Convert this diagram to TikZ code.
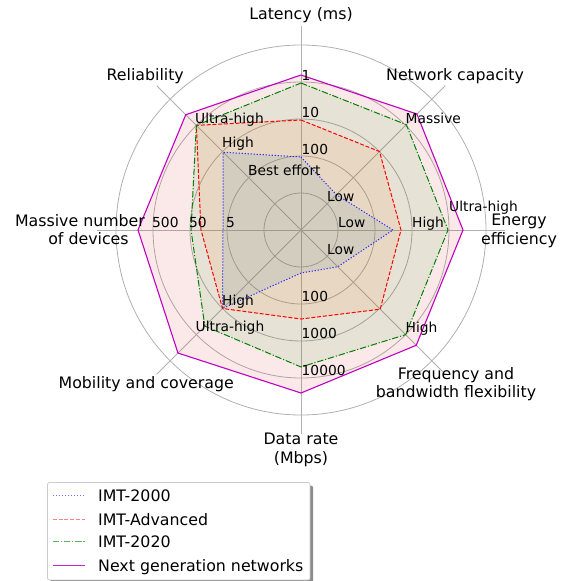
\documentclass[tikz,border=0pt]{standalone}
\usepackage{fontspec}
\setmainfont{DejaVu Sans}
\definecolor{gridc}{HTML}{B0B0B0}
\definecolor{cz}{HTML}{1F77B4}
\definecolor{co}{HTML}{FF7F0E}
\definecolor{cg}{HTML}{2CA02C}
\definecolor{cr}{HTML}{D62728}
\definecolor{mb}{RGB}{40,40,255}
\definecolor{mr}{RGB}{255,0,0}
\definecolor{mg}{RGB}{0,128,0}
\definecolor{mm}{RGB}{191,0,191}
\definecolor{lgb}{RGB}{110,110,255}
\definecolor{lgr}{RGB}{255,128,128}
\definecolor{lgg}{RGB}{90,175,90}
\definecolor{lgm}{RGB}{200,40,200}
\tikzset{
  gridline/.style={draw=gridc,line width=0.8pt},
  imtz/.style={line width=1pt,dash pattern=on 1.2pt off 1.8pt},
  imta/.style={line width=1pt,dash pattern=on 4pt off 1.8pt},
  imtt/.style={line width=1pt,dash pattern=on 6.4pt off 1.8pt on 1.2pt off 1.8pt},
  ngn/.style={line width=1.1pt},
  axlab/.style={inner sep=0pt,font=\fontsize{15.8}{18.5}\selectfont},
  ticklab/.style={inner sep=0pt,font=\fontsize{13.8}{16}\selectfont,anchor=base west},
  leglab/.style={inner sep=0pt,font=\fontsize{15.8}{18}\selectfont,anchor=base west},
}
\begin{document}
\begin{tikzpicture}[x=1pt,y=-1pt]
\useasboundingbox (0,0) rectangle (574,581);
% legend box
\fill[black!45,rounded corners=2pt] (50.5,485.5) rectangle (313,583);
\fill[white] (47.5,482.5) rectangle (310,580);
\draw[black!20,rounded corners=2pt,line width=0.8pt] (47.5,482.5) rectangle (310,580);
% legend handles, drawn as small filled marks
\foreach \i in {0,...,10} \fill[lgb] ({52.7+3*\i},494.5) rectangle ({53.9+3*\i},495.5);
\foreach \i in {0,...,4} \fill[lgr] ({52.7+5.8*\i},518.8) rectangle ({56.7+5.8*\i},519.8);
\fill[lgr] (81.7,518.8) rectangle (85,519.8);
\foreach \i in {0,1,2} {
  \fill[lgg] ({52.7+11.2*\i},541.2) rectangle ({59.1+11.2*\i},542.2);
  \fill[lgg] ({60.9+11.2*\i},541.2) rectangle ({62.1+11.2*\i},542.2);
}
\fill[lgm] (52.7,565.15) rectangle (85,566.25);
\begin{scope}[shift={(301,230)},y=1pt]
  % grid
  \foreach \r in {37,74,111,148,185} \draw[gridline] (0,0) circle[radius=\r];
  \foreach \a in {0,45,...,315} \draw[gridline] (0,0) -- (\a:204);
  % fills
  \fill[cr,fill opacity=0.1] (90:155) -- (45:164) -- (0:162) -- (-45:163) -- (-90:163) -- (-135:174) -- (180:163) -- (135:163) -- cycle;
  \fill[cg,fill opacity=0.1] (90:147) -- (45:149) -- (0:147) -- (-45:148) -- (-90:137) -- (-135:136) -- (180:110) -- (135:148) -- cycle;
  \fill[co,fill opacity=0.1] (90:110) -- (45:111) -- (0:100) -- (-45:112) -- (-90:89) -- (-135:111) -- (180:100) -- (135:148) -- cycle;
  \fill[cz,fill opacity=0.1] (90:73) -- (45:50) -- (0:92) -- (-45:52) -- (-90:43) -- (-135:111) -- (180:78) -- (135:110) -- cycle;
  % lines
  \draw[imtz,draw=mb] (90:73) -- (45:50) -- (0:92) -- (-45:52) -- (-90:43) -- (-135:111) -- (180:78) -- (135:110) -- cycle;
  \draw[imta,draw=mr] (90:110) -- (45:111) -- (0:100) -- (-45:112) -- (-90:89) -- (-135:111) -- (180:100) -- (135:148) -- cycle;
  \draw[imtt,draw=mg] (90:147) -- (45:149) -- (0:147) -- (-45:148) -- (-90:137) -- (-135:136) -- (180:110) -- (135:148) -- cycle;
  \draw[ngn,draw=mm] (90:155) -- (45:164) -- (0:162) -- (-45:163) -- (-90:163) -- (-135:174) -- (180:163) -- (135:163) -- cycle;
\end{scope}
% axis labels
\node[axlab,anchor=base] (lat) at (301,19) {Latency (ms)};
\node[axlab,anchor=base west] (net) at (386,80.7) {Network capacity};
\node[axlab,anchor=base east] (rel) at (184,80.7) {Reliability};
\node[axlab,anchor=base,align=center] (ene) at (519,244) {Energy\\efficiency};
\node[axlab,anchor=base,align=center] (fre) at (456,397.5) {Frequency and\\bandwidth flexibility};
\node[axlab,anchor=base,align=center] (dat) at (301,463) {Data rate\\(Mbps)};
\node[axlab,anchor=base east] (mob) at (234,388.3) {Mobility and coverage};
\node[axlab,anchor=base] (mas1) at (80,226.5) {Massive number};
\node[axlab,anchor=base] (mas2) at (88.5,244) {of devices};
% tick labels
\node[ticklab] (t1) at (301.5,80) {1};
\node[ticklab] (t2) at (301.5,117) {10};
\node[ticklab] (t3) at (301.5,154) {100};
\node[ticklab] (t4) at (248,175) {Best effort};
\node[ticklab] (t5) at (327,201.7) {Low};
\node[ticklab] (t6) at (405.5,123) {Massive};
\node[ticklab] (t7) at (338,227.3) {Low};
\node[ticklab] (t8) at (412,227.3) {High};
\node[ticklab] (t9) at (449,211.7) {Ultra-high};
\node[ticklab] (t10) at (327,254) {Low};
\node[ticklab] (t11) at (405.5,332.3) {High};
\node[ticklab] (t12) at (301.5,301.7) {100};
\node[ticklab] (t13) at (301.5,338.3) {1000};
\node[ticklab] (t14) at (301.5,375.7) {10000};
\node[ticklab] (t15) at (222,305) {High};
\node[ticklab] (t16) at (195.5,331.7) {Ultra-high};
\node[ticklab] (t17) at (152,227.3) {500};
\node[ticklab] (t18) at (189,227.3) {50};
\node[ticklab] (t19) at (226,227.3) {5};
\node[ticklab] (t20) at (195,123.3) {Ultra-high};
\node[ticklab] (t21) at (222,147.3) {High};
% legend labels
\node[leglab] (g1) at (98,501) {IMT-2000};
\node[leglab] (g2) at (98,525) {IMT-Advanced};
\node[leglab] (g3) at (98,547.5) {IMT-2020};
\node[leglab] (g4) at (98,571.5) {Next generation networks};
\end{tikzpicture}
\end{document}
